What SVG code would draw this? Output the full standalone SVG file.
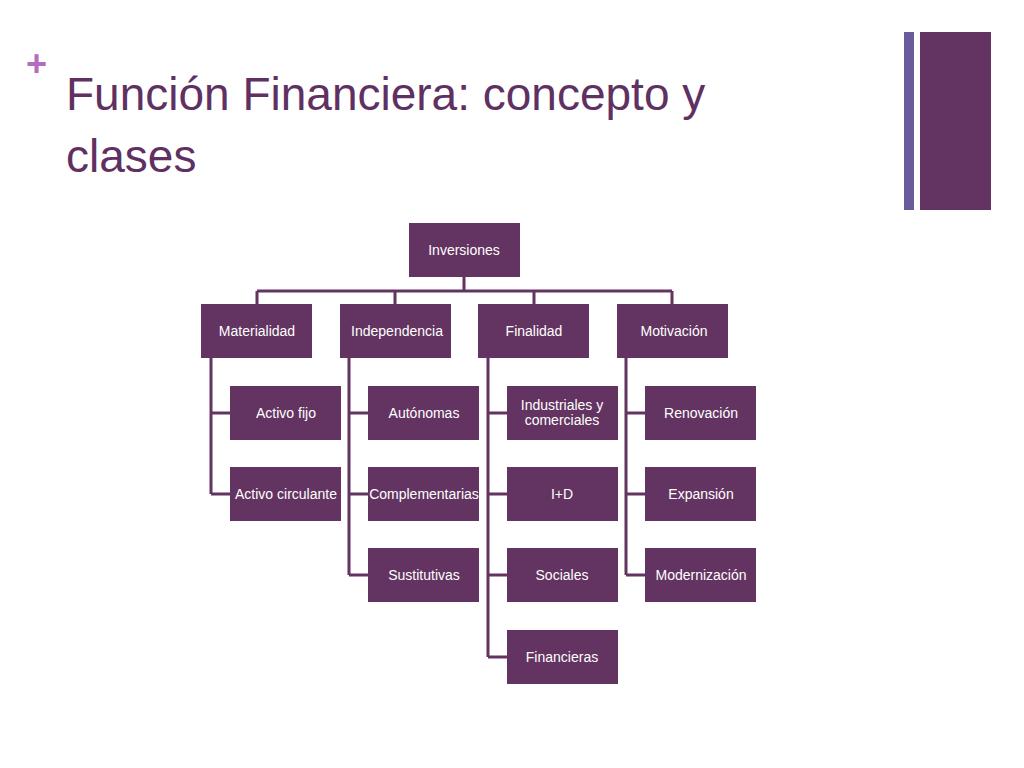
<svg xmlns="http://www.w3.org/2000/svg" width="1024" height="768" viewBox="0 0 1024 768">
<style>
.n{fill:#633461}
.t{fill:#fff;font-family:"Liberation Sans",Arial,sans-serif;font-size:14px;text-anchor:middle}
.c{stroke:#633461;stroke-width:3;fill:none}
</style>
<rect width="1024" height="768" fill="#fff"/>
<text x="26" y="76" font-family="Liberation Sans,Arial,sans-serif" font-size="36" fill="#b56bc0" font-weight="bold">+</text>
<text font-family="Liberation Sans,Arial,sans-serif" font-size="46" fill="#5f3163"><tspan x="66" y="110">Función Financiera: concepto y</tspan><tspan x="66" y="172">clases</tspan></text>
<rect x="904" y="32" width="10" height="178" fill="#6a5c9a"/>
<rect x="920" y="32" width="71" height="178" fill="#633461"/>
<g id="connectors">
<path class="c" d="M464 277V291M257 291H672M257 291V304M395 291V304M534 291V304M672 291V304"/>
<path class="c" d="M211 358V494M211 413H230M211 494H230"/>
<path class="c" d="M349 358V575M349 413H368M349 494H368M349 575H368"/>
<path class="c" d="M488 358V657M488 413H507M488 494H507M488 575H507M488 657H507"/>
<path class="c" d="M626 358V575M626 413H645M626 494H645M626 575H645"/>
</g>
<g id="inversiones"><rect class="n" x="409" y="223" width="111" height="54"/><text class="t" x="464" y="255">Inversiones</text></g>
<g id="materialidad"><rect class="n" x="201" y="304" width="111" height="54"/><text class="t" x="257" y="336">Materialidad</text></g>
<g id="independencia"><rect class="n" x="340" y="304" width="111" height="54"/><text class="t" x="397" y="336">Independencia</text></g>
<g id="finalidad"><rect class="n" x="478" y="304" width="111" height="54"/><text class="t" x="534" y="336">Finalidad</text></g>
<g id="motivacion"><rect class="n" x="617" y="304" width="111" height="54"/><text class="t" x="674" y="336">Motivación</text></g>
<g id="activo-fijo"><rect class="n" x="230" y="386" width="111" height="54"/><text class="t" x="286" y="418">Activo fijo</text></g>
<g id="activo-circulante"><rect class="n" x="230" y="467" width="111" height="54"/><text class="t" x="286" y="499">Activo circulante</text></g>
<g id="autonomas"><rect class="n" x="368" y="386" width="111" height="54"/><text class="t" x="424" y="418">Autónomas</text></g>
<g id="complementarias"><rect class="n" x="368" y="467" width="111" height="54"/><text class="t" x="424" y="499">Complementarias</text></g>
<g id="sustitutivas"><rect class="n" x="368" y="548" width="111" height="54"/><text class="t" x="424" y="580">Sustitutivas</text></g>
<g id="industriales"><rect class="n" x="507" y="386" width="111" height="54"/><text class="t" x="562" y="410">Industriales y</text><text class="t" x="562" y="425">comerciales</text></g>
<g id="id"><rect class="n" x="507" y="467" width="111" height="54"/><text class="t" x="562" y="499">I+D</text></g>
<g id="sociales"><rect class="n" x="507" y="548" width="111" height="54"/><text class="t" x="562" y="580">Sociales</text></g>
<g id="financieras"><rect class="n" x="507" y="630" width="111" height="54"/><text class="t" x="562" y="662">Financieras</text></g>
<g id="renovacion"><rect class="n" x="645" y="386" width="111" height="54"/><text class="t" x="701" y="418">Renovación</text></g>
<g id="expansion"><rect class="n" x="645" y="467" width="111" height="54"/><text class="t" x="701" y="499">Expansión</text></g>
<g id="modernizacion"><rect class="n" x="645" y="548" width="111" height="54"/><text class="t" x="701" y="580">Modernización</text></g>
</svg>
